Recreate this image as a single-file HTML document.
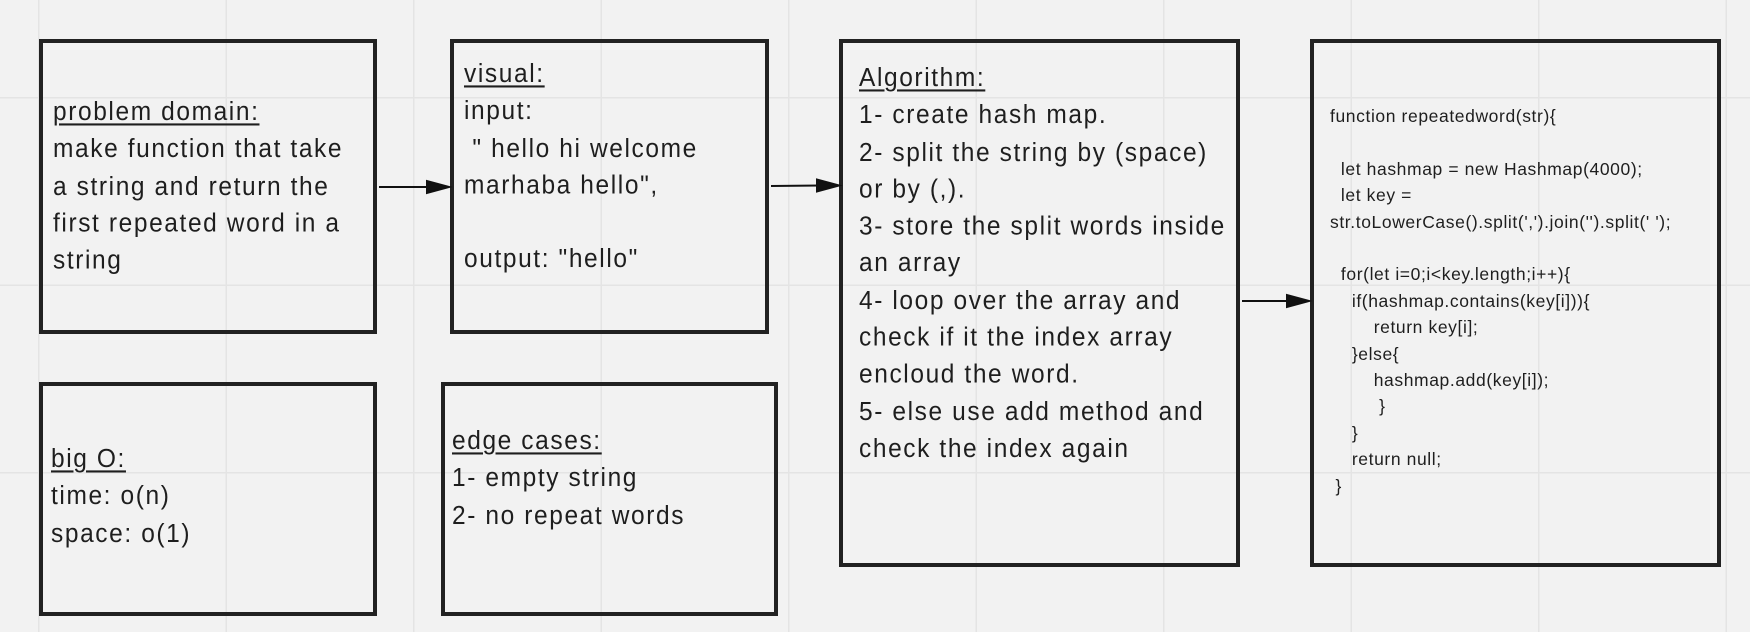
<!DOCTYPE html>
<html><head><meta charset="utf-8"><style>
body{margin:0;width:1750px;height:632px;overflow:hidden;background:#f2f2f2;position:relative;font-family:"Liberation Sans",sans-serif;color:#1e1e1e}
.grid{position:absolute;left:0;top:0;width:1750px;height:632px;
background-image:linear-gradient(to right,#e4e4e4 1.5px,transparent 1.5px),linear-gradient(to bottom,#e4e4e4 1.5px,transparent 1.5px);
background-size:187.5px 187.5px;background-position:38px 97px}
.box{position:absolute;border:4px solid #222;box-sizing:border-box}
.t{position:absolute;font-size:24.5px;line-height:35.3px;white-space:pre;letter-spacing:1.6px;transform:scaleY(1.05);transform-origin:0 0}
.c{position:absolute;font-size:17.5px;line-height:26.4px;white-space:pre;letter-spacing:0.6px}
u{text-decoration-thickness:2px;text-underline-offset:3px}
</style></head><body>
<div class="grid"></div>
<div class="box" style="left:39px;top:39px;width:338px;height:295px"></div>
<div class="box" style="left:450px;top:39px;width:319px;height:295px"></div>
<div class="box" style="left:839px;top:39px;width:401px;height:528px"></div>
<div class="box" style="left:1310px;top:39px;width:411px;height:528px"></div>
<div class="box" style="left:39px;top:382px;width:338px;height:234px"></div>
<div class="box" style="left:441px;top:382px;width:337px;height:234px"></div>

<svg style="position:absolute;left:0;top:0" width="1750" height="632">
<g stroke="#111" stroke-width="2" fill="#111">
<line x1="379" y1="187" x2="430" y2="187"/><polygon points="449,187 427,181 427,193"/>
<line x1="771" y1="186" x2="820" y2="185.5"/><polygon points="839,185.5 817,179.5 817,191.5"/>
<line x1="1242" y1="301" x2="1290" y2="301"/><polygon points="1309,301 1287,295 1287,307"/>
</g></svg>

<div class="t" style="left:53px;top:94px"><u>problem domain:</u>
make function that take
a string and return the
first repeated word in a
string</div>

<div class="t" style="left:464px;top:56px"><u>visual:</u>
input:
 " hello hi welcome
marhaba hello",

output: "hello"</div>

<div class="t" style="left:859px;top:60px"><u>Algorithm:</u>
1- create hash map.
2- split the string by (space)
or by (,).
3- store the split words inside
an array
4- loop over the array and
check if it the index array
encloud the word.
5- else use add method and
check the index again</div>

<div class="t" style="left:51px;top:441px"><u>big O:</u>
time: o(n)
space: o(1)</div>

<div class="t" style="left:452px;top:423px"><u>edge cases:</u>
1- empty string
2- no repeat words</div>

<div class="c" style="left:1330px;top:103px">function repeatedword(str){

  let hashmap = new Hashmap(4000);
  let key =
str.toLowerCase().split(',').join('').split(' ');

  for(let i=0;i&lt;key.length;i++){
    if(hashmap.contains(key[i])){
        return key[i];
    }else{
        hashmap.add(key[i]);
         }
    }
    return null;
 }</div>
</body></html>
